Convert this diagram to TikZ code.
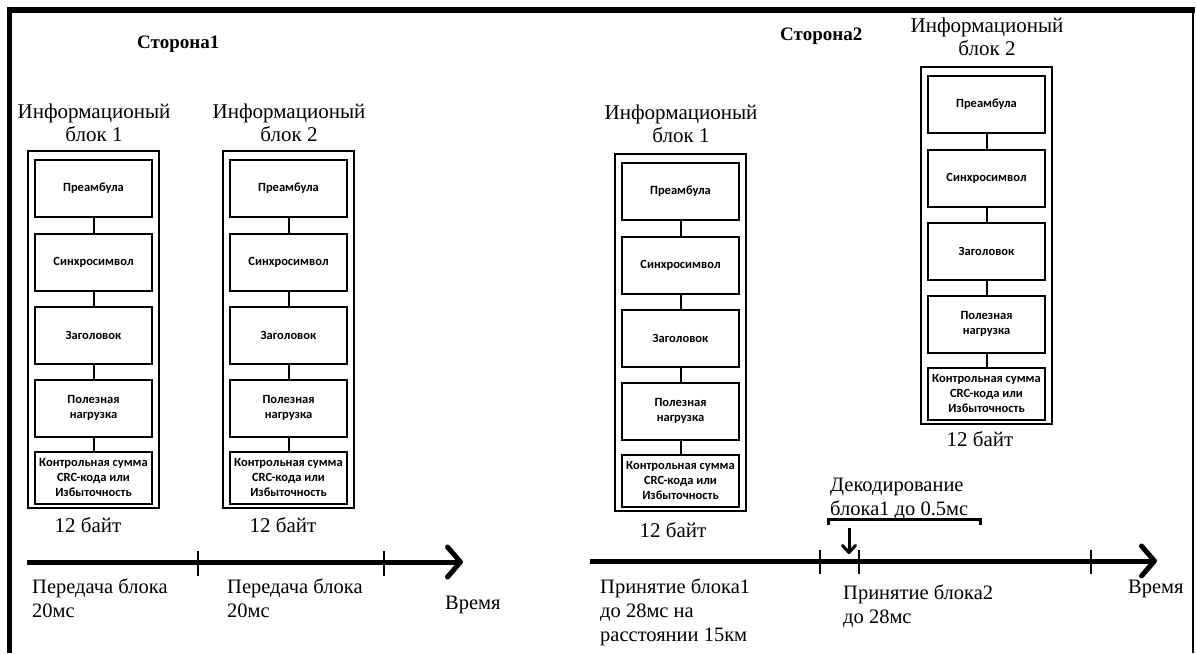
\documentclass[tikz,border=0pt]{standalone}
\usepackage{fontspec}
\setmainfont{Liberation Serif}
\newfontfamily\boxfont{Carlito}
\usetikzlibrary{arrows.meta}

\tikzset{
  field/.style={draw, line width=2pt, minimum width=117pt, minimum height=57pt,
    inner sep=1pt, align=center, font=\boxfont\bfseries\fontsize{12.5}{15}\selectfont},
  frame/.style={draw, line width=2.5pt, minimum width=131pt, minimum height=357pt, inner sep=0pt},
  link/.style={line width=2pt},
  title/.style={font=\fontsize{21}{23}\selectfont, inner sep=0pt, align=center, anchor=base},
  note/.style={font=\fontsize{20.5}{24}\selectfont, inner sep=0pt, align=left, anchor=base west},
  side/.style={font=\bfseries\fontsize{19}{22}\selectfont, inner sep=0pt, anchor=base west},
  axis/.style={line width=5pt, -{Straight Barb[length=13pt,width=30pt,round]}},
  tickmark/.style={line width=2pt},
  pics/infoblk/.style={code={
    \node[frame] (-out) at (65.5,178.5) {};
    \node[field] (-pre) at (65.5,37.5) {Преамбула};
    \node[field] (-syn) at (65.5,111) {Синхросимвол};
    \node[field] (-hdr) at (65.5,184) {Заголовок};
    \node[field] (-pay) at (65.5,257) {Полезная\\нагрузка};
    \node[field, minimum height=52pt] (-crc) at (65.5,326.5) {Контрольная сумма\\CRC-кода или\\Избыточность};
    \draw[link] (-pre) -- (-syn);
    \draw[link] (-syn) -- (-hdr);
    \draw[link] (-hdr) -- (-pay);
    \draw[link] (-pay) -- (-crc);
  }}
}

\begin{document}
\begin{tikzpicture}[x=1pt,y=-1pt]
\path[use as bounding box] (0,0) rectangle (1196,653);

% outer frame (open at the bottom)
\draw[line width=6pt] (7,10) -- (1194.5,10);
\draw[line width=5pt] (9.5,7) -- (9.5,653);
\draw[line width=2.5pt] (1193,7) -- (1193,653);

% side headings
\node[side] (s1) at (137,48) {Сторона1};
\node[side] (s2) at (780,40) {Сторона2};

% information blocks
\pic (L1) at (28,151) {infoblk};
\pic (L2) at (223,151) {infoblk};
\pic (R1) at (615,154) {infoblk};
\pic (R2) at (921,67) {infoblk};

% block titles (anchored at the baseline of the last line)
\node[title] (tL1) at (94,141) {Информационый\\блок 1};
\node[title] (tL2) at (289,141) {Информационый\\блок 2};
\node[title] (tR1) at (681,142) {Информационый\\блок 1};
\node[title] (tR2) at (987,55) {Информационый\\блок 2};

% block sizes
\node[title] (zL1) at (88,532) {12 байт};
\node[title] (zL2) at (283,532) {12 байт};
\node[title] (zR1) at (673,537) {12 байт};
\node[title] (zR2) at (980,446) {12 байт};

% transmitting side time axis
\coordinate (a1s) at (27,562);
\coordinate (a1e) at (463,562);
\draw[axis] (a1s) -- (a1e);
\coordinate (k1t) at (198,551); \coordinate (k1b) at (198,576);
\coordinate (k2t) at (384,551); \coordinate (k2b) at (384,576);
\draw[tickmark] (k1t) -- (k1b);
\draw[tickmark] (k2t) -- (k2b);
\node[note] (n1) at (32,617) {Передача блока\\20мс};
\node[note] (n2) at (227,617) {Передача блока\\20мс};
\node[note] (n3) at (445,609) {Время};

% receiving side time axis
\coordinate (a2s) at (590,561);
\coordinate (a2e) at (1157,561);
\draw[axis] (a2s) -- (a2e);
\coordinate (k3t) at (820,550); \coordinate (k3b) at (820,574);
\coordinate (k4t) at (859,550); \coordinate (k4b) at (859,574);
\coordinate (k5t) at (1091,550); \coordinate (k5b) at (1091,574);
\draw[tickmark] (k3t) -- (k3b);
\draw[tickmark] (k4t) -- (k4b);
\draw[tickmark] (k5t) -- (k5b);
\node[note] (m1) at (600,641) {Принятие блока1\\до 28мс на\\расстоянии 15км};
\node[note] (m2) at (843,623) {Принятие блока2\\до 28мс};
\node[note] (m3) at (1128,593) {Время};

% decoding interval
\node[note] (dec) at (830,515) {Декодирование\\блока1 до 0.5мс};
\draw[line width=3pt] (828,525) -- (828,519) -- (980,519) -- (980,525);
\coordinate (d0) at (849,528);
\coordinate (d1) at (849,554);
\draw[line width=3pt, -{Straight Barb[length=7pt,width=13pt,round]}] (d0) -- (d1);
\end{tikzpicture}
\end{document}
